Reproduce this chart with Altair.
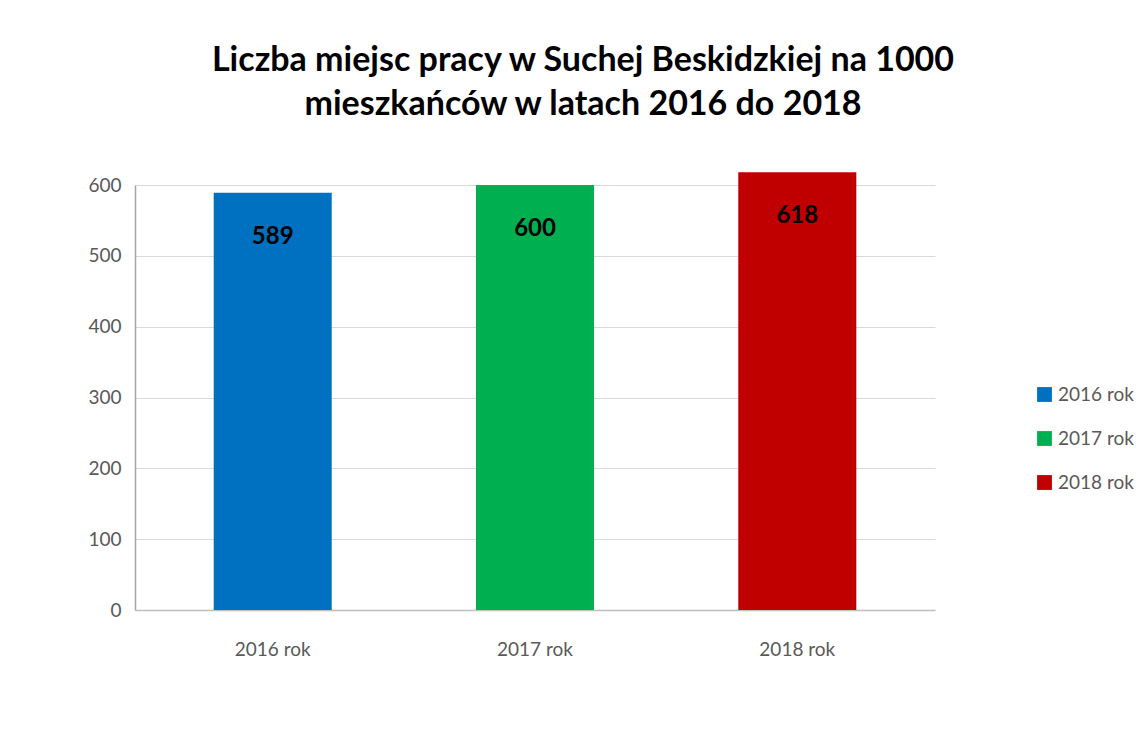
import altair as alt
import pandas as pd

categories = ["2016 rok", "2017 rok", "2018 rok"]
values = [589, 600, 618]
colors = ["#0070C0", "#00B050", "#C00000"]

df = pd.DataFrame({"rok": categories, "wartosc": values})

FONT = "Lato"
GRAY = "#595959"

base = alt.Chart(df).encode(
    x=alt.X("rok:N", sort=categories, title=None,
            scale=alt.Scale(paddingInner=0.55, paddingOuter=0.3),
            axis=alt.Axis(labelAngle=0, labelFontSize=19, labelColor=GRAY, labelFont=FONT,
                          labelPadding=30, ticks=False, domainColor="#bfbfbf", domainWidth=1.5)),
)

bars = base.mark_bar().encode(
    y=alt.Y("wartosc:Q", title=None,
            scale=alt.Scale(domain=[0, 600], nice=False),
            axis=alt.Axis(values=[0, 100, 200, 300, 400, 500, 600], labelFontSize=19,
                          labelColor=GRAY, labelFont=FONT, ticks=False, labelPadding=14,
                          domainColor="#a6a6a6", domainWidth=1.5,
                          gridColor="#d9d9d9", gridWidth=1.2)),
    color=alt.Color("rok:N", sort=categories,
                    scale=alt.Scale(domain=categories, range=colors),
                    legend=alt.Legend(title=None, orient="none", legendX=900, legendY=200,
                                      symbolType="square", symbolSize=220, labelFontSize=19,
                                      labelColor=GRAY, labelFont=FONT, rowPadding=24,
                                      symbolStrokeWidth=0)),
)

labels = base.mark_text(dy=44, fontSize=24, fontWeight="bold", font=FONT, color="black").encode(
    y="wartosc:Q",
    text="wartosc:Q",
)

chart = (bars + labels).properties(
    width=800,
    height=425,
    autosize=alt.AutoSizeParams(type="none"),
    padding={"left": 127, "top": 177, "right": 203, "bottom": 128},
    title=alt.Title(
        ["Liczba miejsc pracy w Suchej Beskidzkiej na 1000", "mieszkańców w latach 2016 do 2018"],
        fontSize=34, fontWeight="bold", font=FONT, color="black",
        anchor="middle", dx=48, offset=50, lineHeight=44,
    ),
).configure_view(stroke=None)

chart.save("out.html", embed_options={"renderer": "svg", "actions": False})
